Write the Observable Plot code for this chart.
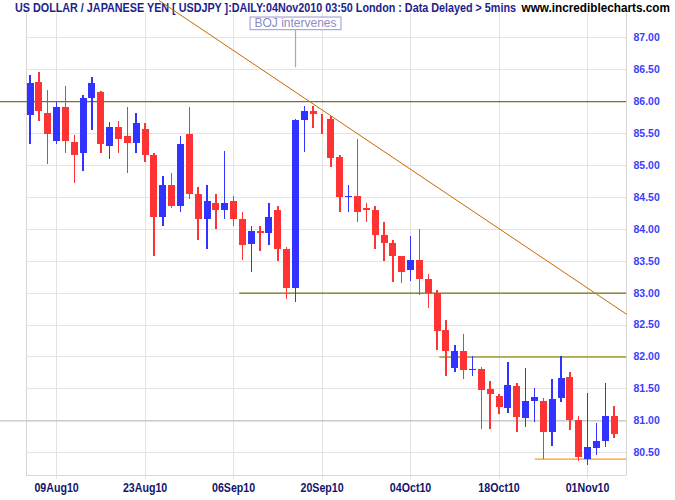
<!DOCTYPE html>
<html><head><meta charset="utf-8">
<script src="https://cdn.jsdelivr.net/npm/d3@7"></script>
<script src="https://cdn.jsdelivr.net/npm/@observablehq/plot@0.6"></script>
<style>body{margin:0;background:#fff}#chart{width:675px;height:500px}</style>
</head><body><div id="chart"></div>
<script>
// ---- data ----
const dates = ["2010-08-04","2010-08-05","2010-08-06","2010-08-09","2010-08-10","2010-08-11","2010-08-12","2010-08-13",
"2010-08-16","2010-08-17","2010-08-18","2010-08-19","2010-08-20","2010-08-23","2010-08-24","2010-08-25","2010-08-26","2010-08-27",
"2010-08-30","2010-08-31","2010-09-01","2010-09-02","2010-09-03","2010-09-06","2010-09-07","2010-09-08","2010-09-09","2010-09-10",
"2010-09-13","2010-09-14","2010-09-15","2010-09-16","2010-09-17","2010-09-20","2010-09-21","2010-09-22","2010-09-23","2010-09-24",
"2010-09-27","2010-09-28","2010-09-29","2010-09-30","2010-10-01","2010-10-04","2010-10-05","2010-10-06","2010-10-07","2010-10-08",
"2010-10-11","2010-10-12","2010-10-13","2010-10-14","2010-10-15","2010-10-18","2010-10-19","2010-10-20","2010-10-21","2010-10-22",
"2010-10-25","2010-10-26","2010-10-27","2010-10-28","2010-10-29","2010-11-01","2010-11-02","2010-11-03","2010-11-04"];
const open  = [85.78,86.30,85.82,85.37,85.90,85.36,85.18,86.05,86.15,85.30,85.60,85.46,85.35,85.57,85.15,84.19,84.69,84.36,
85.49,84.55,84.16,84.40,84.29,84.43,84.15,83.76,83.96,83.94,84.30,83.69,83.07,85.71,85.85,85.71,85.72,85.13,84.49,84.52,
84.32,84.29,83.90,83.77,83.57,83.35,83.51,83.22,83.00,82.41,81.82,82.08,81.79,81.80,81.49,81.38,81.20,81.54,81.04,81.31,
81.30,80.82,81.35,81.68,81.01,80.40,80.56,80.67,81.07];
const high  = [86.41,86.46,86.18,85.99,86.24,85.47,86.10,86.38,86.16,85.68,85.69,85.91,85.82,85.65,85.19,84.83,84.88,85.46,
85.91,84.66,84.68,84.55,85.22,84.51,84.27,84.05,84.04,84.40,84.36,83.72,85.72,85.93,85.93,85.80,85.77,85.15,84.68,85.40,
84.40,84.35,84.10,83.82,83.58,83.88,83.99,83.29,83.04,82.57,82.18,82.35,82.00,81.84,81.61,81.42,81.91,81.58,81.82,81.51,
81.35,81.65,82.00,81.76,81.07,81.43,80.96,81.58,81.22];
const low   = [85.32,85.69,85.02,85.32,85.19,84.72,84.91,85.55,85.19,85.10,85.18,84.88,85.18,85.05,83.58,84.05,84.32,84.27,
84.47,83.82,83.68,83.99,84.16,84.04,83.51,83.33,83.65,83.74,83.49,82.90,82.86,85.21,85.58,85.49,84.97,84.26,84.26,84.10,
84.10,83.69,83.49,83.16,83.15,83.18,82.96,82.76,82.10,81.70,81.76,81.65,81.70,80.86,80.86,81.10,81.12,80.82,80.90,80.98,
80.40,80.60,81.29,80.85,80.37,80.30,80.46,80.59,80.73];
const close = [86.29,85.84,85.49,85.91,85.37,85.16,86.05,86.29,85.32,85.60,85.41,85.35,85.65,85.15,84.19,84.69,84.35,85.33,
84.55,84.16,84.43,84.29,84.41,84.15,83.74,83.97,83.94,84.19,83.68,83.07,85.71,85.85,85.80,85.70,85.11,84.49,84.52,84.27,
84.29,83.90,83.77,83.57,83.32,83.51,83.21,83.00,82.40,82.09,82.08,81.79,81.81,81.48,81.42,81.21,81.55,81.06,81.30,81.36,
80.82,81.33,81.66,81.01,80.43,80.58,80.68,81.07,80.78];

const xTickDates = ["2010-08-09","2010-08-23","2010-09-06","2010-09-20","2010-10-04","2010-10-18","2010-11-01"];
const yTicks = [80.5,81,81.5,82,82.5,83,83.5,84,84.5,85,85.5,86,86.5,87];

// drawn support/resistance levels (start given as trading-day index; null = whole width)
const levelValue = [86, 83, 82, 81, 80.4];
const levelStart = [null, 23.7, 46.3, null, 57.1];
const levelColor = ["#76761c", "#727218", "#9c9c2c", "#c4c4c4", "#ff9a1a"];

// drawn downtrend line (trading-day index, price)
const trendIndex = [14.6, 67.4];
const trendPrice = [87.58, 82.67];

const bojLabel = "BOJ intervenes";
const bojIndex = 30;
const bojTip = 86.53, bojTop = 87.124, bojLabelPrice = 87.223;

const headerText = "US DOLLAR / JAPANESE YEN [ USDJPY ]:DAILY:04Nov2010 03:50 London : Data Delayed > 5mins";
const siteText = "www.incrediblecharts.com";

// ---- build ----
const xDomain = [-0.4, 67.4];
const yDomain = [80.144, 87.536];
const UP = "#3333ff", DOWN = "#ff3333", TREND = "#c66a00";
const fmt = d3.utcFormat("%d%b%y");
const parse = d3.utcParse("%Y-%m-%d");

const candles = dates.map((d, i) => ({i, o: open[i], h: high[i], l: low[i], c: close[i],
  col: close[i] >= open[i] ? UP : DOWN}));
const xTickIdx = xTickDates.map(d => dates.indexOf(d));
const levels = levelValue.map((v, k) => ({v, s: levelStart[k], col: levelColor[k]}));
const fullLevels = levels.filter(d => d.s === null);
const partLevels = levels.filter(d => d.s !== null);
const trend = trendIndex.map((i, k) => ({i, v: trendPrice[k]}));

const chart = Plot.plot({
  width: 675, height: 500,
  marginTop: 3, marginBottom: 25, marginLeft: 26, marginRight: 49,
  x: {type: "linear", domain: xDomain, axis: null},
  y: {domain: yDomain, axis: null},
  color: {type: "identity"},
  style: {fontFamily: "'Liberation Sans', Arial, sans-serif", background: "#fff", overflow: "visible"},
  marks: [
    Plot.ruleY(yTicks, {stroke: "#e3e3e3", shapeRendering: "crispEdges"}),
    Plot.ruleX(xTickIdx, {stroke: "#e3e3e3", insetBottom: -4, shapeRendering: "crispEdges"}),
    Plot.ruleX(xDomain, {stroke: "#d6d6d6", shapeRendering: "crispEdges"}),
    Plot.ruleY([yDomain[0]], {stroke: "#d6d6d6", shapeRendering: "crispEdges"}),
    Plot.ruleY(fullLevels, {y: "v", stroke: "col", strokeWidth: 1.4, insetLeft: -26}),
    Plot.ruleY(partLevels, {y: "v", x1: "s", x2: () => xDomain[1], stroke: "col", strokeWidth: 1.4}),
    Plot.ruleX(candles, {x: "i", y1: "l", y2: "h", stroke: "col", strokeWidth: 1.5, shapeRendering: "crispEdges"}),
    Plot.ruleX(candles, {x: "i", y1: "o", y2: "c", stroke: "col", strokeWidth: 7, shapeRendering: "crispEdges"}),
    Plot.line(trend, {x: "i", y: "v", stroke: TREND, strokeWidth: 1}),
    Plot.ruleX([{i: bojIndex}], {x: "i", y1: () => bojTip, y2: () => bojTop, stroke: "#a4a4d4", strokeWidth: 1.2}),
    Plot.text([{i: bojIndex, v: bojLabelPrice, t: bojLabel}], {x: "i", y: "v", text: "t", fill: "#8c8cc4",
      fontSize: 12}),
    Plot.axisY(yTicks, {anchor: "right", tickSize: 0, tickPadding: 7, tickFormat: d => d.toFixed(2),
      color: "#3d3dff", fill: "#3d3dff", fontSize: 10.5, fontWeight: "bold", label: null}),
    Plot.axisX(xTickIdx, {anchor: "bottom", tickSize: 0, tickPadding: 7, tickFormat: i => fmt(parse(dates[i])),
      color: "#14146e", fill: "#14146e", fontSize: 13, fontWeight: "bold", label: null})
  ]
});
document.getElementById("chart").append(chart);

// ---- post-processing: header, label box, condensed x labels ----
const ns = "http://www.w3.org/2000/svg";
const svg = chart;
function el(name, attrs) { const e = document.createElementNS(ns, name); for (const k in attrs) e.setAttribute(k, attrs[k]); return e; }

let trendNode = svg.querySelector(`[stroke="${TREND}"]`);
if (trendNode && trendNode.tagName.toLowerCase() !== "g") trendNode = trendNode.parentNode;
const hg = el("g", {"text-anchor": "start"});
hg.append(el("rect", {x: 12, y: 0, width: 662, height: 13, fill: "#fff"}));
const t1 = el("text", {x: 15, y: 11.7, fill: "#1e1e8c", "font-size": 12, "font-weight": "bold",
  "text-anchor": "start", textLength: 501, lengthAdjust: "spacingAndGlyphs"});
t1.textContent = headerText;
const t2 = el("text", {x: 521.5, y: 11.7, fill: "#000", "font-size": 12, "font-weight": "bold",
  "text-anchor": "start", textLength: 148.5, lengthAdjust: "spacingAndGlyphs"});
t2.textContent = siteText;
hg.append(t1, t2);
if (trendNode && trendNode.parentNode) trendNode.parentNode.insertBefore(hg, trendNode); else svg.append(hg);

const bt = [...svg.querySelectorAll("text")].find(t => t.textContent === bojLabel);
if (bt) {
  const bb = bt.getBBox();
  const cy = bb.y + bb.height / 2;
  const r = el("rect", {x: bb.x - 4.4, y: cy - 6.3, width: bb.width + 8.8, height: 12.6,
    fill: "#fff", stroke: "#a8a8d8", "stroke-width": 1.2});
  const tr = bt.getAttribute("transform");
  if (tr) r.setAttribute("transform", tr);
  bt.parentNode.insertBefore(r, bt);
}

const xl = [...svg.querySelectorAll("text")].filter(t => /^\d\d[A-Z][a-z]{2}\d\d$/.test(t.textContent));
xl.forEach(t => {
  const tr = t.getAttribute("transform");
  if (tr) t.setAttribute("transform", tr + " scale(0.82,1)");
  else { const x = +t.getAttribute("x") || 0; t.setAttribute("transform", `translate(${x},0) scale(0.82,1) translate(${-x},0)`); }
});
</script></body></html>
